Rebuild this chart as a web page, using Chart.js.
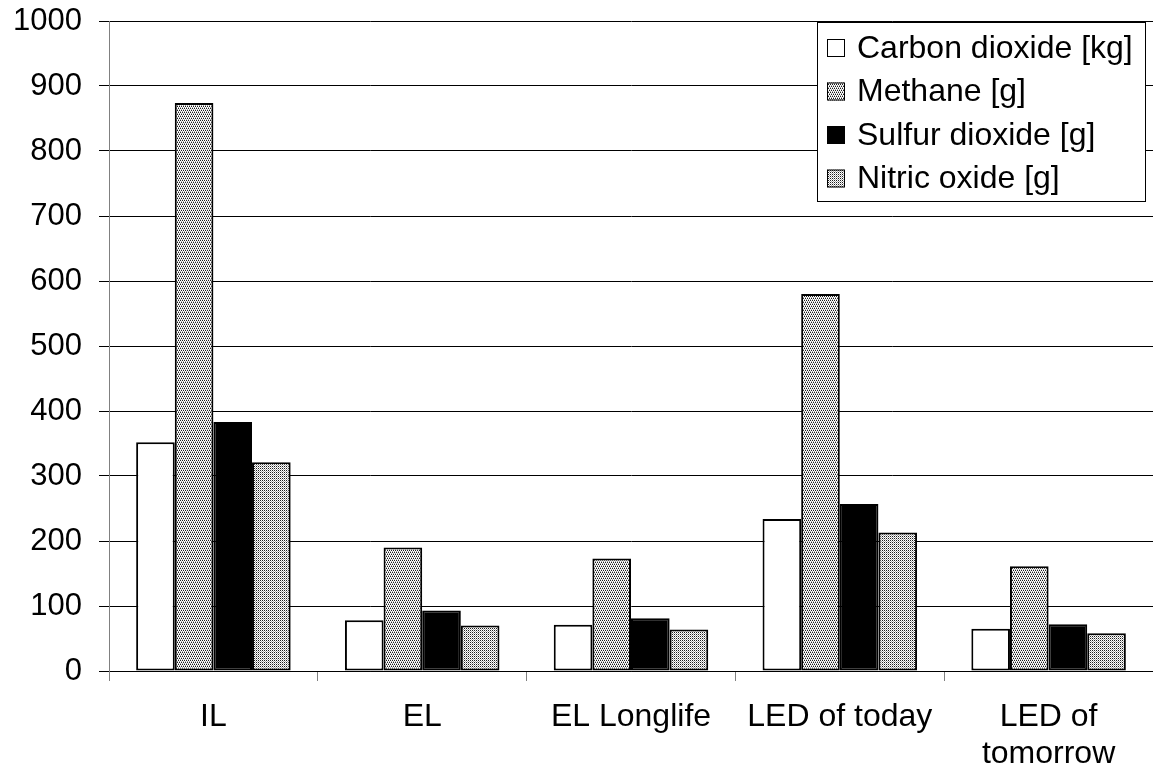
<!DOCTYPE html>
<html>
<head>
<meta charset="utf-8">
<title>Emissions by lamp type</title>
<script src="https://cdn.jsdelivr.net/npm/chart.js@4/dist/chart.umd.min.js"></script>
<style>
  html, body { margin: 0; padding: 0; background: #ffffff; }
  #wrap { width: 1153px; height: 771px; }
</style>
</head>
<body>
<div id="wrap"><canvas id="c" width="1153" height="771"></canvas></div>
<script>
// Lamp types on the category axis
const categories = ['IL', 'EL', 'EL Longlife', 'LED of today', ['LED of', 'tomorrow']];

// Emissions per lamp type
const carbonDioxide = [352, 78, 71, 234, 65];    // kg
const methane       = [874, 190, 173, 580, 161]; // g
const sulfurDioxide = [383, 93, 81, 257, 72];    // g
const nitricOxide   = [321, 70, 64, 213, 58];    // g

const seriesNames = ['Carbon dioxide [kg]', 'Methane [g]', 'Sulfur dioxide [g]', 'Nitric oxide [g]'];
const yTicks = [0, 100, 200, 300, 400, 500, 600, 700, 800, 900, 1000];

// Small dither tiles for the grey fills
function makePattern(rows) {
  const c = document.createElement('canvas');
  c.width = rows[0].length;
  c.height = rows.length;
  const g = c.getContext('2d');
  rows.forEach((row, y) => row.forEach((col, x) => {
    g.fillStyle = col;
    g.fillRect(x, y, 1, 1);
  }));
  return g.createPattern(c, 'repeat');
}
const D = '#1e1e1e', W = '#ffffff', L = '#a8a8a8';
const methaneFill = makePattern([
  [D, W, D, W],
  [W, L, W, L],
  [W, D, W, D],
  [L, W, L, W]
]);
const nitricFill = makePattern([
  [D, W],
  [W, L]
]);

const FONT = 'Arial, "Liberation Sans", Helvetica, sans-serif';

// Boxed legend drawn in the upper right of the plot
const boxLegend = {
  id: 'boxLegend',
  afterDraw(chart) {
    const ctx = chart.ctx;
    const x0 = 817.5, y0 = 22.5, w = 328, h = 179;
    ctx.save();
    ctx.fillStyle = '#ffffff';
    ctx.fillRect(x0, y0, w, h);
    ctx.strokeStyle = '#000000';
    ctx.lineWidth = 1;
    ctx.strokeRect(x0, y0, w, h);
    ctx.font = '32px ' + FONT;
    ctx.textBaseline = 'middle';
    chart.data.datasets.forEach((ds, i) => {
      const cy = 48 + i * 43.5;
      ctx.fillStyle = ds.backgroundColor;
      ctx.fillRect(827, cy - 9, 18, 18);
      ctx.strokeStyle = '#000000';
      ctx.lineWidth = 1;
      ctx.strokeRect(827.5, cy - 8.5, 17, 17);
      ctx.fillStyle = '#000000';
      ctx.fillText(ds.label, 857, cy + 1);
    });
    ctx.restore();
  }
};

const fills = ['#ffffff', methaneFill, '#000000', nitricFill];
const values = [carbonDioxide, methane, sulfurDioxide, nitricOxide];

new Chart(document.getElementById('c'), {
  type: 'bar',
  data: {
    labels: categories,
    datasets: values.map((v, i) => ({
      label: seriesNames[i],
      data: v,
      backgroundColor: fills[i],
      borderColor: '#000000',
      borderWidth: 2,
      borderSkipped: false,
      categoryPercentage: 0.74,
      barPercentage: 1.0
    }))
  },
  options: {
    responsive: false,
    animation: false,
    devicePixelRatio: 1,
    layout: { padding: { top: 21, right: 0, bottom: 0, left: 0 } },
    plugins: {
      legend: { display: false },
      tooltip: { enabled: false }
    },
    scales: {
      x: {
        offset: true,
        grid: {
          offset: true,
          drawOnChartArea: false,
          drawTicks: true,
          tickLength: 10,
          color: '#808080',
          lineWidth: 1
        },
        border: { display: true, color: '#000000', width: 1 },
        ticks: {
          color: '#000000',
          font: { family: FONT, size: 32, lineHeight: 1.15 },
          padding: 18,
          maxRotation: 0,
          autoSkip: false
        },
        afterFit(scale) {
          scale.height = 100;
          scale.paddingLeft = 0;
          scale.paddingRight = 0;
        }
      },
      y: {
        min: 0,
        max: 1000,
        afterBuildTicks(scale) { scale.ticks = yTicks.map(v => ({ value: v })); },
        grid: {
          color: '#000000',
          lineWidth: 1,
          drawTicks: true,
          tickLength: 10
        },
        border: { display: true, color: '#808080', width: 1 },
        ticks: {
          color: '#000000',
          font: { family: FONT, size: 31 },
          padding: 17,
          callback: (v) => String(v)
        },
        afterFit(scale) {
          scale.width = 109;
          scale.paddingTop = 0;
          scale.paddingBottom = 0;
        }
      }
    }
  },
  plugins: [boxLegend]
});
</script>
</body>
</html>
